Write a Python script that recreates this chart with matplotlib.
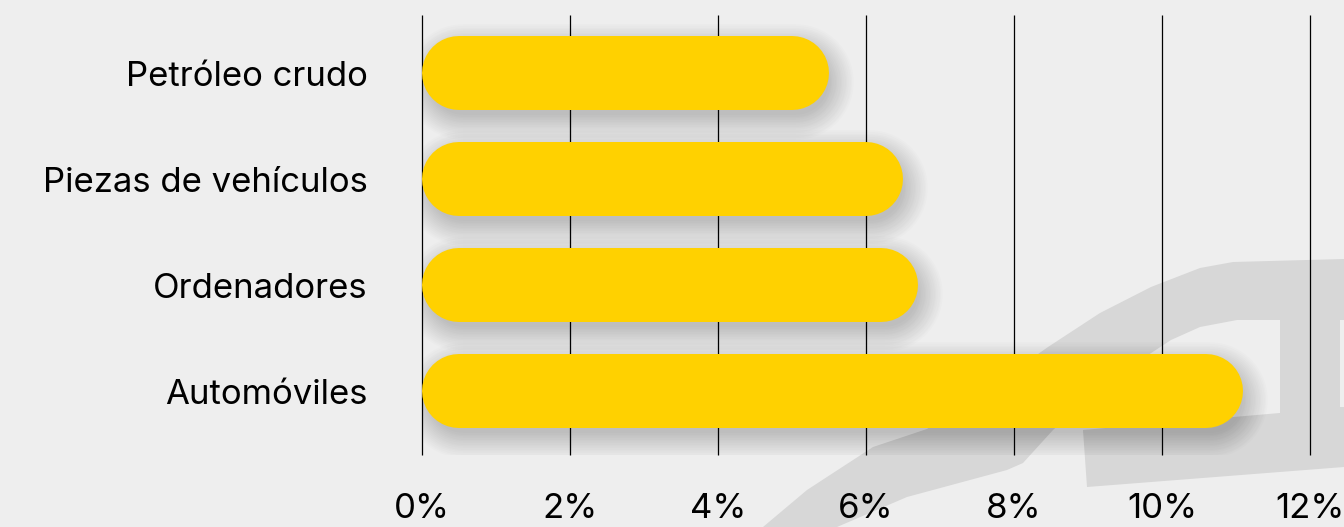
import matplotlib.pyplot as plt
from matplotlib.patches import Polygon
from matplotlib import transforms

plt.rcParams['font.family'] = ['Inter', 'DejaVu Sans']

# data
categories = ['Petróleo crudo', 'Piezas de vehículos', 'Ordenadores', 'Automóviles']
values = [5.5, 6.5, 6.7, 11.1]
xticks = [0, 2, 4, 6, 8, 10, 12]
xticklabels = [f'{t}%' for t in xticks]

W, H, DPI = 1344, 527, 100
bg = '#EEEEEE'
bar_color = '#FFD100'

fig = plt.figure(figsize=(W / DPI, H / DPI), dpi=DPI, facecolor=bg)

# watermark shapes in the background (pixel coords -> figure coords)
def px(pts):
    return [(x / W, 1 - y / H) for x, y in pts]

swoosh = [(763, 527), (807, 490), (873, 447), (927, 429), (980, 395), (1048, 347),
          (1100, 313), (1151, 287), (1200, 268), (1233, 262), (1344, 259),
          (1344, 320), (1237, 320), (1200, 327), (1171, 340), (1110, 380),
          (1053, 430), (1023, 463), (1007, 470), (907, 497), (837, 527)]
block = [(1083, 430), (1280, 413), (1280, 320), (1340, 320), (1340, 407),
         (1344, 407), (1344, 467), (1087, 487)]
for shape in (swoosh, block):
    fig.add_artist(Polygon(px(shape), closed=True, transform=fig.transFigure,
                           facecolor='#D7D7D7', edgecolor='none', zorder=-1))

ax = fig.add_axes([422 / W, 1 - 455 / H, 888 / W, 440 / H])
ax.set_facecolor('none')
ax.set_xlim(0, 12)
ax.set_ylim(3.6, -0.55)

# rounded bars drawn as thick lines with round caps
bar_px = 74
lw = bar_px * 72 / DPI
px_per_unit = ax.get_window_extent().width / 12
r = (bar_px / 2) / px_per_unit

off = transforms.offset_copy(ax.transData, fig=fig, x=4, y=-9, units='dots')
for i, v in enumerate(values):
    # soft shadow
    for k in range(16):
        ax.plot([r, v - r], [i, i], color='black', alpha=0.011,
                lw=lw - 6 + k * 2.4, solid_capstyle='round', transform=off, zorder=2)
    ax.plot([r, v - r], [i, i], color=bar_color, lw=lw,
            solid_capstyle='round', zorder=3)

ax.set_yticks(range(len(categories)))
ax.set_yticklabels(categories)
ax.set_xticks(xticks)
ax.set_xticklabels(xticklabels)
ax.tick_params(axis='y', length=0, pad=39, labelsize=25, labelcolor='black')
ax.tick_params(axis='x', length=0, pad=27, labelsize=25, labelcolor='black')

ax.vlines(xticks, 0, 1, transform=ax.get_xaxis_transform(), color='black',
          lw=0.9, zorder=1, clip_on=False)
for s in ax.spines.values():
    s.set_visible(False)

fig.savefig('out.png', dpi=DPI, facecolor=bg)
